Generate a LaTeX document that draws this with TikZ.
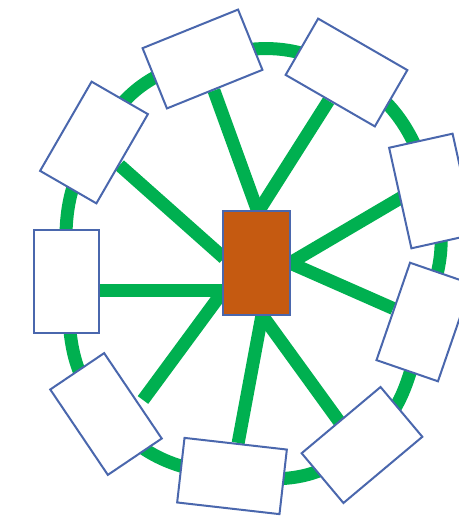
\documentclass[tikz,border=0pt]{standalone}
\usetikzlibrary{backgrounds}
\definecolor{RingGreen}{HTML}{00B050}
\definecolor{BoxBlue}{HTML}{4A67AD}
\definecolor{HubBrown}{HTML}{C55A11}

\begin{document}
\begin{tikzpicture}[
  x=0.5pt, y=-0.5pt,
  box/.style={draw=BoxBlue, fill=white, line width=1pt, inner sep=0pt, minimum width=32.5pt, minimum height=51.5pt},
  hubbox/.style={draw=BoxBlue, fill=HubBrown, line width=0.6pt, inner sep=0pt, minimum width=33.5pt, minimum height=52pt},
  band/.style={line width=6.5pt, color=RingGreen}
]
  \path[use as bounding box, clip] (0,0) rectangle (459,516);

  \node[hubbox] (hub) at (256.5,263) {};
  \node[box] (box1) at (67,281) {};
  \node[box, rotate=-30] (box2) at (94,142.5) {};
  \node[box, rotate=-68] (box3) at (202.5,59) {};
  \node[box, rotate=60] (box4) at (346.5,72.5) {};
  \node[box, rotate=12.5] (box5) at (432,191) {};
  \node[box, rotate=-19] (box6) at (424,322) {};
  \node[box, rotate=-50] (box7) at (362,445) {};
  \node[box, rotate=83.5] (box8) at (232,476) {};
  \node[box, rotate=34] (box9) at (106,414) {};

  \coordinate (hubn) at (258,212);
  \coordinate (hubw1) at (224,258);
  \coordinate (hubw2) at (224,290);
  \coordinate (hube) at (290,263);
  \coordinate (hubs) at (262,315);
  \coordinate (end5) at (404,196);
  \coordinate (end7) at (341,424);
  \coordinate (end9) at (143,400);

  \begin{scope}[on background layer]
    \draw[band] plot[smooth cycle, tension=0.8] coordinates {(box1.center) (box2.center) (box3.center) (box4.center) (box5.center) (box6.center) (box7.center) (box8.center) (box9.center)};
    \draw[band] (hubw2) -- (hubw2 -| box1.east);
    \draw[band] (hubw1) -- (box2);
    \draw[band] (hubn) -- (box3);
    \draw[band] (hubn) -- (box4);
    \draw[band] (hube) -- (end5);
    \draw[band] (hube) -- (box6);
    \draw[band] (hubs) -- (end7);
    \draw[band] (hubs) -- (box8);
    \draw[band] (hubw2) -- (end9);
  \end{scope}
\end{tikzpicture}
\end{document}
